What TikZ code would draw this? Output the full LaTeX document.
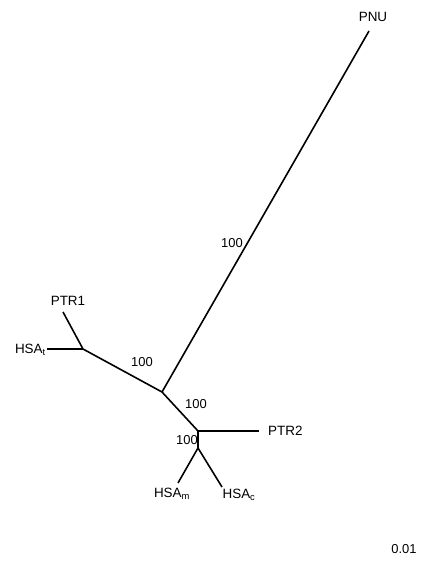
\documentclass[tikz,border=0pt]{standalone}
\usepackage{fontspec}
\setmainfont{Liberation Sans}
\begin{document}
\begin{tikzpicture}[x=1bp,y=-1bp,
  branch/.style={line width=1.6bp, black},
  taxon/.style={font=\fontsize{13.5}{16}\selectfont, inner sep=0pt},
  boot/.style={font=\fontsize{13}{15}\selectfont, inner sep=0pt}]
\useasboundingbox (0,0) rectangle (432,565);
% internal nodes and tips
\coordinate (A) at (162,392);
\coordinate (B) at (83,349);
\coordinate (C) at (198,431);
\coordinate (D) at (198,448);
\coordinate (tPNU) at (369,31);
\coordinate (tPTR1) at (63,312);
\coordinate (tHSAt) at (47,349);
\coordinate (tPTR2) at (259,431);
\coordinate (tHSAm) at (178,483);
\coordinate (tHSAc) at (222,487);
% branches
\draw[branch] (A) -- (tPNU);
\draw[branch] (A) -- (B);
\draw[branch] (B) -- (tPTR1);
\draw[branch] (B) -- (tHSAt);
\draw[branch] (A) -- (C);
\draw[branch] (C) -- (tPTR2);
\draw[branch] (C) -- (D);
\draw[branch] (D) -- (tHSAm);
\draw[branch] (D) -- (tHSAc);
% taxon labels
\node[taxon] (lPNU) at (373,17) {PNU};
\node[taxon] (lPTR1) at (68,301) {PTR1};
\node[taxon,anchor=east] (lHSAt) at (46,350) {HSA\textsubscript{t}};
\node[taxon,anchor=west] (lPTR2) at (268,431) {PTR2};
\node[taxon] (lHSAm) at (172,494) {HSA\textsubscript{m}};
\node[taxon] (lHSAc) at (239,495) {HSA\textsubscript{c}};
% bootstrap values
\node[boot] (b1) at (232,243) {100};
\node[boot] (b2) at (142,362) {100};
\node[boot] (b3) at (196,404) {100};
\node[boot] (b4) at (187,440) {100};
% scale
\node[boot] (scale) at (404,549) {0.01};
\end{tikzpicture}
\end{document}
